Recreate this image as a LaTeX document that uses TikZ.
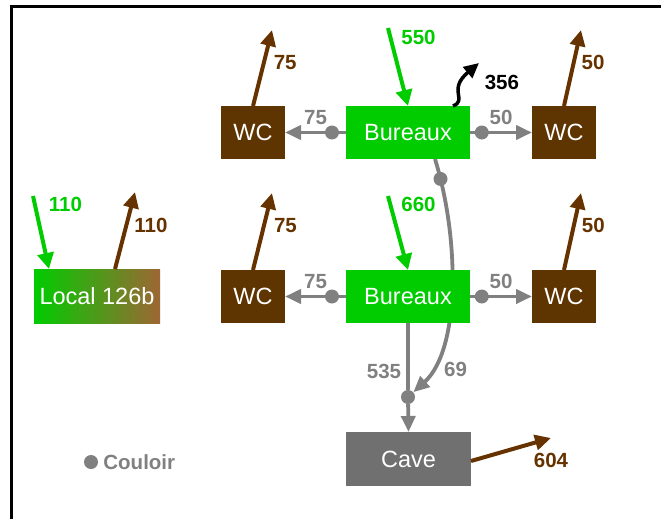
\documentclass[tikz,border=0pt]{standalone}
\usepackage{fontspec}
\setmainfont{Liberation Sans}
\usetikzlibrary{
    arrows.meta,
    calc,
    positioning
}
\definecolor{airgreen}{RGB}{0,204,0}
\definecolor{wcbrown}{RGB}{94,52,0}
\definecolor{outbrown}{RGB}{102,51,0}
\definecolor{hallgray}{RGB}{128,128,128}
\definecolor{cavegray}{RGB}{112,112,112}
\definecolor{mixbrown}{RGB}{158,102,52}
\tikzset{
    room/.style = {
        inner sep = 0pt,
        outer sep = 0pt,
        minimum height = 53pt,
        text = white,
        font = \fontsize{23.5}{26}\selectfont
    },
    office/.style = {room, fill = airgreen, minimum width = 124pt},
    wc/.style = {room, fill = wcbrown, minimum width = 64pt},
    cellar/.style = {room, fill = cavegray, minimum width = 125pt, minimum height = 54pt},
    mixed/.style = {room, left color = airgreen, right color = mixbrown, minimum width = 126pt, minimum height = 54pt},
    supply/.style = {airgreen, line width = 4pt, -{Triangle[length = 16pt, width = 16pt]}},
    exhaust/.style = {outbrown, line width = 4pt, -{Triangle[length = 16pt, width = 15pt]}},
    leak/.style = {black, line width = 3.5pt, -{Triangle[length = 15pt, width = 14pt]}},
    transfer/.style = {hallgray, line width = 3.8pt, -{Triangle[length = 16pt, width = 14pt]}},
    hub/.style = {circle, fill = hallgray, inner sep = 0pt, minimum size = 14pt},
    flow/.style = {inner sep = 0pt, font = \bfseries\fontsize{20.5}{23}\selectfont},
    qin/.style = {flow, text = airgreen},
    qout/.style = {flow, text = outbrown},
    qleak/.style = {flow, text = black},
    qhall/.style = {flow, text = hallgray}
}

\begin{document}
\begin{tikzpicture}[x = 1pt, y = -1pt]
    \useasboundingbox (0,0) rectangle (661,519);
    % frame
    \draw[line width = 3pt] (11.5,530) -- (11.5,6.5) -- (670,6.5);

    \node[office] (b1) at (408,132.5) {Bureaux};
    \node[wc] (wc1)[left = 61pt of b1] {WC};
    \node[wc] (wc2)[right = 62pt of b1] {WC};
    \node[hub] (j) at (408,397) {};

    % 69 goes behind the lower office
    \draw[transfer] ([xshift = 27pt]b1.south) .. controls (460,240) and (460,350) .. (j)
        node[hub, pos = 0.08] (h1) {}
        node[qhall, pos = 0.85, anchor = west, xshift = 11pt] (l69) {69};

    \node[office] (b2) at (408,296.5) {Bureaux};
    \node[wc] (wc3)[left = 61pt of b2] {WC};
    \node[wc] (wc4)[right = 62pt of b2] {WC};
    \node[mixed] (loc) at (97,296) {Local 126b};
    \node[cellar] (cave) at (408.5,459) {Cave};

    % free ends
    \coordinate (s1) at (388,28);
    \coordinate (s2) at (388,196);
    \coordinate (s3) at (33,196);
    \coordinate (e1) at (272,30);
    \coordinate (e2) at (581,30);
    \coordinate (e3) at (272,193);
    \coordinate (e4) at (581,193);
    \coordinate (e5) at (135,192);
    \coordinate (e6) at (551,438);
    \coordinate (e7) at (479,63);

    % supply
    \draw[supply] (s1) -- (b1.north) node[qin, pos = 0.12, anchor = west, xshift = 9pt] (l550) {550};
    \draw[supply] (s2) -- (b2.north) node[qin, pos = 0.12, anchor = west, xshift = 9pt] (l660) {660};
    \draw[supply] (s3) -- ([xshift = -48pt]loc.north) node[qin, pos = 0.12, anchor = west, xshift = 12pt] (l110a) {110};

    % exhaust
    \draw[exhaust] (wc1.north) -- (e1) node[qout, pos = 0.57, anchor = west, xshift = 8pt] (l75a) {75};
    \draw[exhaust] (wc2.north) -- (e2) node[qout, pos = 0.57, anchor = west, xshift = 6pt] (l50a) {50};
    \draw[exhaust] (wc3.north) -- (e3) node[qout, pos = 0.58, anchor = west, xshift = 8pt] (l75b) {75};
    \draw[exhaust] (wc4.north) -- (e4) node[qout, pos = 0.58, anchor = west, xshift = 6pt] (l50b) {50};
    \draw[exhaust] ([xshift = 18pt]loc.north) -- (e5) node[qout, pos = 0.57, anchor = west, xshift = 6pt] (l110b) {110};
    \draw[exhaust] ([yshift = -2pt]cave.east) -- (e6) node[qout, at end, anchor = north, yshift = -13pt] (l604) {604};

    % leakage
    \draw[leak] ([xshift = 45pt]b1.north) .. controls (468,100) and (447,90) .. (e7)
        node[qleak, at end, anchor = north west, xshift = 4pt, yshift = -10pt] (l356) {356};

    % corridor transfers
    \draw[transfer] (b1.west) -- (wc1.east) node[hub, pos = 0.23] (h2) {} node[qhall, midway, above = 6pt] (l75c) {75};
    \draw[transfer] (b1.east) -- (wc2.west) node[hub, pos = 0.19] (h3) {} node[qhall, midway, above = 6pt] (l50c) {50};
    \draw[transfer] (b2.west) -- (wc3.east) node[hub, pos = 0.23] (h4) {} node[qhall, midway, above = 6pt] (l75d) {75};
    \draw[transfer] (b2.east) -- (wc4.west) node[hub, pos = 0.19] (h5) {} node[qhall, midway, above = 6pt] (l50d) {50};
    \draw[hallgray, line width = 3.8pt] (b2.south) -- (j) node[qhall, pos = 0.72, anchor = east, xshift = -5pt] (l535) {535};
    \draw[transfer] (j) -- (cave.north);

    % legend
    \node[hub] (leg) at (91,462) {};
    \node[qhall, right = 5pt of leg] (legtext) {Couloir};
\end{tikzpicture}
\end{document}
